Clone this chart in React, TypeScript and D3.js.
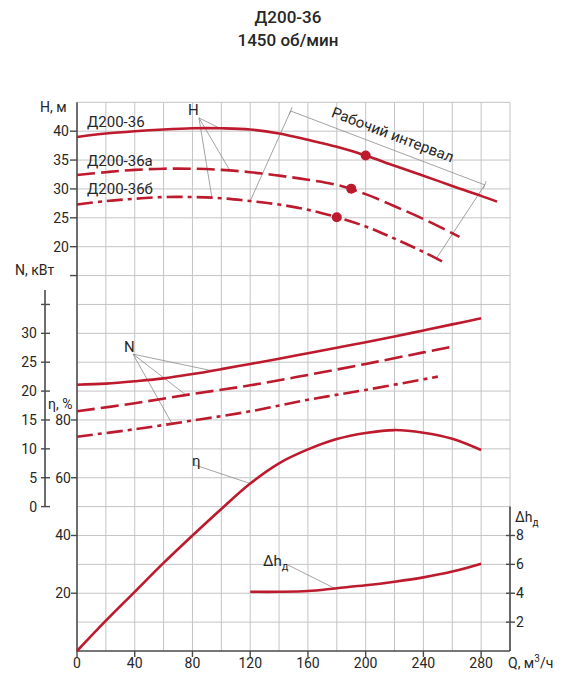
import * as d3 from "d3";

// head curves, H (m) against flow Q (m³/h)
const hQ36 = [0, 20, 40, 60, 80, 100, 120, 140, 160, 180, 200, 220, 240, 260, 280, 291];
const h36 = [39.0, 39.6, 40.0, 40.3, 40.5, 40.5, 40.3, 39.6, 38.5, 37.3, 35.8, 34.0, 32.3, 30.5, 28.8, 27.8];
const hQ36a = [0, 20, 40, 60, 80, 100, 120, 140, 160, 180, 200, 220, 240, 265];
const h36a = [32.4, 32.9, 33.3, 33.5, 33.5, 33.3, 32.9, 32.3, 31.6, 30.7, 29.1, 27.0, 24.8, 21.7];
const hQ36b = [0, 20, 40, 60, 80, 100, 120, 140, 160, 180, 200, 220, 240, 255];
const h36b = [27.3, 27.9, 28.3, 28.6, 28.6, 28.4, 27.9, 27.3, 26.4, 25.1, 23.5, 21.4, 19.1, 17.2];

// power curves, N (kW)
const nQ36 = [0, 20, 40, 60, 80, 100, 120, 140, 160, 180, 200, 220, 240, 260, 280];
const n36 = [21.1, 21.3, 21.7, 22.2, 22.95, 23.8, 24.7, 25.6, 26.55, 27.5, 28.45, 29.45, 30.5, 31.55, 32.6];
const nQ36a = [0, 40, 80, 120, 160, 200, 240, 258];
const n36a = [16.5, 17.9, 19.5, 21.0, 22.8, 24.7, 26.7, 27.6];
const nQ36b = [0, 40, 80, 120, 160, 200, 250];
const n36b = [12.1, 13.4, 14.9, 16.5, 18.5, 20.2, 22.5];

// efficiency, %
const effQ = [0, 20, 40, 60, 80, 100, 120, 140, 160, 180, 200, 220, 240, 260, 280];
const eff = [0, 10.5, 20.5, 30.5, 40, 49.2, 58, 65, 69.8, 73.4, 75.5, 76.5, 75.6, 73.5, 69.6];

// permissible suction lift Δhд, m
const npshQ = [120, 140, 160, 180, 200, 220, 240, 260, 280];
const npsh = [4.1, 4.1, 4.15, 4.35, 4.55, 4.8, 5.1, 5.5, 6.05];

// rated duty points on each head curve
const dutyQ = [200, 190, 180];
const dutyH = [35.8, 30.05, 25.1];

const qTicks = [0, 40, 80, 120, 160, 200, 240, 280];
const hTicks = [20, 25, 30, 35, 40];
const nTicks = [0, 5, 10, 15, 20, 25, 30];
const effTicks = [20, 40, 60, 80];
const npshTicks = [2, 4, 6, 8];
const seriesNames = ["Д200-36", "Д200-36а", "Д200-36б"];

const W = 576;
const Hh = 691;
const RED = "#bd1a2e";
const INK = "#262626";
const AXIS = "#4a4a4a";
const GRID = "#c4c4c4";
const LEAD = "#8c8c8c";
const FONT = "Roboto, 'Noto Sans', sans-serif";

const yBot = 651;
const yTop = 102.3;
const x = d3.scaleLinear().domain([0, 300]).range([77, 510]);
const yEff = d3.scaleLinear().domain([0, 190]).range([yBot, yTop]);
const yHead = d3.scaleLinear().domain([-50, 45]).range([yBot, yTop]);
const yPow = d3.scaleLinear().domain([-25, 70]).range([yBot, yTop]);
const yNpsh = d3.scaleLinear().domain([0, 38]).range([yBot, yTop]);

const dashStyles = [undefined, "18 6", "16 5 4 5"];

function curvePath(qs: number[], vs: number[], ys: d3.ScaleLinear<number, number>) {
  const line = d3
    .line<number>()
    .x((_, i) => x(qs[i]))
    .y((v) => ys(v))
    .curve(d3.curveCatmullRom.alpha(0.5));
  return line(vs) || "";
}

// point on a curve at flow q (piecewise linear, for leader lines)
function at(qs: number[], vs: number[], q: number) {
  return d3.scaleLinear().domain(qs).range(vs)(q);
}

const App = () => {
  const headSets = [
    [hQ36, h36],
    [hQ36a, h36a],
    [hQ36b, h36b],
  ];
  const powSets = [
    [nQ36, n36],
    [nQ36a, n36a],
    [nQ36b, n36b],
  ];

  // "H" leader
  const hOrigin = [x(84.5), yHead(42.3)];
  const hTargets = [
    [x(99), yHead(at(hQ36, h36, 99))],
    [x(106), yHead(at(hQ36a, h36a, 106))],
    [x(93.5), yHead(at(hQ36b, h36b, 93.5))],
  ];
  // "N" leader
  const nOrigin = [x(38.8), yPow(26.4)];
  const nTargets = [
    [x(93.5), yPow(at(nQ36, n36, 93.5))],
    [x(75.5), yPow(at(nQ36a, n36a, 75.5))],
    [x(65.8), yPow(at(nQ36b, n36b, 65.8))],
  ];

  // operating range bracket
  const bA = [x(148), yHead(43.5)];
  const bB = [x(282.5), yHead(30.7)];
  const footA = [x(120), yHead(at(hQ36b, h36b, 120))];
  const footB = [x(249), yHead(at(hQ36b, h36b, 249))];
  const ang = Math.atan2(bB[1] - bA[1], bB[0] - bA[0]);
  const deg = (ang * 180) / Math.PI;
  const nx = Math.sin(ang);
  const ny = -Math.cos(ang);
  const mid = [(bA[0] + bB[0]) / 2 + nx * 9, (bA[1] + bB[1]) / 2 + ny * 9];

  return (
    <svg
      width={W}
      height={Hh}
      style={{ position: "absolute", left: 0, top: 0, background: "#fff" }}
      fontFamily={FONT}
    >
      <text x={288} y={23} textAnchor="middle" fontSize={17} fontWeight={500} fill={INK}>
        Д200-36
      </text>
      <text x={288} y={46} textAnchor="middle" fontSize={17} fontWeight={500} fill={INK}>
        1450 об/мин
      </text>

      {/* grid */}
      <g stroke={GRID} strokeWidth={1}>
        {d3.range(20, 301, 20).map((q) => (
          <line key={"v" + q} x1={x(q)} x2={x(q)} y1={yTop} y2={yBot} />
        ))}
        {d3.range(10, 191, 10).map((e) => (
          <line key={"h" + e} x1={x(0)} x2={x(300)} y1={yEff(e)} y2={yEff(e)} />
        ))}
      </g>

      {/* axes */}
      <g stroke={AXIS} strokeWidth={1.6}>
        <line x1={x(0)} x2={x(0)} y1={yTop} y2={yBot} />
        <line x1={x(0)} x2={x(300)} y1={yBot} y2={yBot} />
        <line x1={x(300)} x2={x(300)} y1={yNpsh(10)} y2={yBot} />
        <line x1={45} x2={45} y1={yPow(37.5)} y2={yPow(0)} />
      </g>

      {/* Q axis */}
      {qTicks.map((q) => (
        <g key={"q" + q}>
          <line x1={x(q)} x2={x(q)} y1={yBot} y2={yBot + 6} stroke={AXIS} strokeWidth={1.4} />
          <text x={x(q)} y={yBot + 17} textAnchor="middle" fontSize={14} fill={INK}>
            {q}
          </text>
        </g>
      ))}
      <text x={508} y={yBot + 17} fontSize={14} fill={INK}>
        Q, м<tspan dy={-6} fontSize={10}>3</tspan>
        <tspan dy={6}>/ч</tspan>
      </text>

      {/* H axis */}
      {[15, ...hTicks].map((h) => (
        <line key={"ht" + h} x1={x(0) - 7} x2={x(0)} y1={yHead(h)} y2={yHead(h)} stroke={AXIS} strokeWidth={1.4} />
      ))}
      {hTicks.map((h) => (
        <text key={"hl" + h} x={69} y={yHead(h) + 5} textAnchor="end" fontSize={14} fill={INK}>
          {h}
        </text>
      ))}
      <text x={40} y={112} fontSize={14} fill={INK}>
        H, м
      </text>

      {/* efficiency axis */}
      {effTicks.map((e) => (
        <g key={"e" + e}>
          <line x1={x(0) - 6} x2={x(0)} y1={yEff(e)} y2={yEff(e)} stroke={AXIS} strokeWidth={1.4} />
          <text x={71} y={yEff(e) + 5} textAnchor="end" fontSize={14} fill={INK}>
            {e}
          </text>
        </g>
      ))}
      <text x={48} y={409} fontSize={14} fill={INK}>
        η, %
      </text>

      {/* N axis */}
      {[...nTicks, 35].map((n) => (
        <line key={"nt" + n} x1={41} x2={50} y1={yPow(n)} y2={yPow(n)} stroke={AXIS} strokeWidth={1.4} />
      ))}
      {nTicks.map((n) => (
        <text key={"nl" + n} x={37} y={yPow(n) + 5} textAnchor="end" fontSize={14} fill={INK}>
          {n}
        </text>
      ))}
      <text x={15} y={275} fontSize={14} fill={INK}>
        N, кВт
      </text>

      {/* Δh axis */}
      {npshTicks.map((d) => (
        <g key={"d" + d}>
          <line x1={x(300) - 4} x2={x(300) + 5} y1={yNpsh(d)} y2={yNpsh(d)} stroke={AXIS} strokeWidth={1.4} />
          <text x={516} y={yNpsh(d) + 5} fontSize={14} fill={INK}>
            {d}
          </text>
        </g>
      ))}
      <text x={515} y={522} fontSize={14} fill={INK}>
        Δh<tspan dy={4} fontSize={10}>д</tspan>
      </text>

      {/* leaders */}
      <g stroke={LEAD} strokeWidth={0.8} fill="none">
        {hTargets.map((t, i) => (
          <line key={"hl" + i} x1={hOrigin[0]} y1={hOrigin[1]} x2={t[0]} y2={t[1]} />
        ))}
        {nTargets.map((t, i) => (
          <line key={"nl" + i} x1={nOrigin[0]} y1={nOrigin[1]} x2={t[0]} y2={t[1]} />
        ))}
        <line x1={x(81.7)} y1={yEff(64.4)} x2={x(120)} y2={yEff(at(effQ, eff, 120))} />
        <line x1={288} y1={565} x2={x(178.6)} y2={yNpsh(at(npshQ, npsh, 178.6))} />
        <line x1={bA[0]} y1={bA[1]} x2={bB[0]} y2={bB[1]} />
        <line x1={bA[0]} y1={bA[1]} x2={footA[0]} y2={footA[1]} />
        <line x1={bB[0]} y1={bB[1]} x2={footB[0]} y2={footB[1]} />
        {[bA, bB].map((p, i) => (
          <line key={"bt" + i} x1={p[0] - nx * 4} y1={p[1] - ny * 4} x2={p[0] + nx * 4} y2={p[1] + ny * 4} />
        ))}
      </g>
      <text
        transform={`translate(${mid[0]},${mid[1]}) rotate(${deg})`}
        textAnchor="middle"
        fontSize={15}
        fill={INK}
      >
        Рабочий интервал
      </text>

      {/* curves */}
      <g fill="none" stroke={RED} strokeWidth={2.6}>
        {headSets.map(([qs, vs], i) => (
          <path key={"H" + i} d={curvePath(qs, vs, yHead)} strokeDasharray={dashStyles[i]} />
        ))}
        {powSets.map(([qs, vs], i) => (
          <path key={"N" + i} d={curvePath(qs, vs, yPow)} strokeDasharray={dashStyles[i]} />
        ))}
        <path d={curvePath(effQ, eff, yEff)} />
        <path d={curvePath(npshQ, npsh, yNpsh)} />
      </g>
      {dutyQ.map((q, i) => (
        <circle key={"pt" + i} cx={x(q)} cy={yHead(dutyH[i])} r={5} fill={RED} />
      ))}

      {/* labels */}
      {seriesNames.map((s, i) => (
        <text key={s} x={87} y={[127, 166, 194][i]} fontSize={15} fill={INK}>
          {s}
        </text>
      ))}
      <text x={188} y={115} fontSize={15} fill={INK}>
        H
      </text>
      <text x={124} y={352} fontSize={15} fill={INK}>
        N
      </text>
      <text x={192} y={466} fontSize={15} fill={INK}>
        η
      </text>
      <text x={263} y={566} fontSize={15} fill={INK}>
        Δh<tspan dy={4} fontSize={11}>д</tspan>
      </text>
    </svg>
  );
};

export default App;
